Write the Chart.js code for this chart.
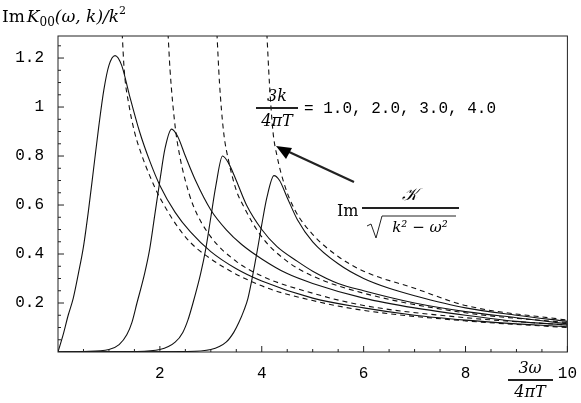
<!DOCTYPE html>
<html><head><meta charset="utf-8">
<script src="https://cdn.jsdelivr.net/npm/chart.js@4"></script>
<style>body{margin:0;background:#fff}#w{width:581px;height:403px}</style>
</head><body><div id="w"><canvas id="c"></canvas></div>
<script>
const xTicks=[2,4,6,8,10];
const yTicks=[0.2,0.4,0.6,0.8,1.0,1.2];
const kLabels=["1.0","2.0","3.0","4.0"];
const solid1=[[0,0],[0.1,0.07],[0.2,0.15],[0.3,0.22],[0.4,0.32],[0.5,0.43],[0.6,0.58],[0.7,0.75],[0.8,0.92],[0.9,1.07],[1.0,1.17],[1.12,1.21],[1.25,1.17],[1.4,1.05],[1.6,0.9],[1.8,0.78],[2.0,0.68],[2.3,0.57],[2.6,0.49],[3,0.41],[3.5,0.34],[4,0.29],[5,0.22],[6,0.18],[7,0.15],[8,0.13],[9,0.115],[10,0.103]];
const solid2=[[0,0],[0.5,0.002],[1,0.01],[1.2,0.03],[1.35,0.07],[1.45,0.12],[1.55,0.2],[1.7,0.32],[1.8,0.42],[1.9,0.56],[2.0,0.7],[2.1,0.83],[2.23,0.91],[2.35,0.88],[2.5,0.8],[2.7,0.7],[3.0,0.58],[3.3,0.5],[3.6,0.44],[4,0.38],[4.5,0.32],[5,0.28],[6,0.22],[7,0.18],[8,0.15],[9,0.125],[10,0.11]];
const solid3=[[0,0],[1.5,0.002],[2,0.01],[2.3,0.04],[2.45,0.08],[2.55,0.13],[2.65,0.2],[2.8,0.32],[2.9,0.42],[3.0,0.55],[3.1,0.68],[3.23,0.8],[3.35,0.77],[3.5,0.7],[3.7,0.6],[4,0.5],[4.3,0.43],[4.7,0.37],[5,0.33],[5.5,0.28],[6,0.25],[7,0.2],[8,0.165],[9,0.14],[10,0.115]];
const solid4=[[0,0],[2.5,0.002],[3,0.01],[3.3,0.04],[3.45,0.08],[3.55,0.12],[3.65,0.17],[3.73,0.22],[3.9,0.4],[4.0,0.52],[4.1,0.63],[4.24,0.72],[4.35,0.7],[4.5,0.63],[4.7,0.54],[5,0.45],[5.5,0.36],[6,0.3],[6.5,0.26],[7,0.23],[8,0.18],[9,0.15],[10,0.125]];
const dash1=[[1.26,1.3],[1.3,1.15],[1.4,1.0],[1.5,0.9],[1.65,0.8],[1.8,0.72],[2,0.63],[2.5,0.47],[3,0.38],[4,0.27],[5,0.21],[6,0.17],[8,0.127],[10,0.1]];
const dash2=[[2.16,1.3],[2.2,1.15],[2.3,0.92],[2.39,0.8],[2.5,0.7],[2.65,0.6],[3,0.47],[3.5,0.37],[4,0.31],[5,0.24],[6,0.19],[8,0.14],[10,0.11]];
const dash3=[[3.12,1.3],[3.17,1.1],[3.25,0.9],[3.35,0.78],[3.5,0.66],[3.63,0.6],[4,0.47],[4.5,0.37],[5,0.31],[6,0.24],[8,0.16],[10,0.12]];
const dash4=[[4.1,1.3],[4.15,1.1],[4.22,0.9],[4.3,0.8],[4.45,0.68],[4.65,0.58],[5,0.48],[5.5,0.39],[6,0.33],[7,0.26],[8,0.19],[10,0.13]];
const toPts=a=>a.map(p=>({x:p[0],y:p[1]}));
const ds=(d,dash)=>({data:toPts(d),borderColor:'#111',borderWidth:1.1,borderDash:dash?[5,4]:[],pointRadius:0,cubicInterpolationMode:'monotone',fill:false});
const deco={id:'deco',afterDraw(ch){
 const c=ch.ctx,a=ch.chartArea,x=ch.scales.x,y=ch.scales.y;
 c.save();c.strokeStyle='#222';c.lineWidth=1;
 c.strokeRect(a.left,a.top,a.right-a.left,a.bottom-a.top);
 for(let v=0.5;v<=10;v+=0.5){const px=x.getPixelForValue(v);const L=(v%2===0)?6:3;c.beginPath();c.moveTo(px,a.bottom);c.lineTo(px,a.bottom-L);c.stroke();}
 for(let v=0.05;v<=1.29;v+=0.05){const py=y.getPixelForValue(v);const m=Math.round(v*100)%20===0;const L=m?6:3;c.beginPath();c.moveTo(a.left,py);c.lineTo(a.left+L,py);c.stroke();}
 c.fillStyle='#000';c.textBaseline='alphabetic';c.textAlign='left';
 let px=2;const put=(t,f,dy)=>{c.font=f;c.fillText(t,px,22+(dy||0));px+=c.measureText(t).width;};
 put('Im','17px "DejaVu Serif"');px+=2;put('K','italic 17px "DejaVu Serif"');put('00','12px "DejaVu Serif"',4);
 put('(ω, k)/k','italic 17px "DejaVu Serif"');put('2','11px "DejaVu Serif"',-8);
 // k label
 c.font='italic 16px "DejaVu Serif"';c.textAlign='center';c.fillText('3k',277,101);c.fillText('4πT',277,126);
 c.lineWidth=2.2;c.beginPath();c.moveTo(256,108);c.lineTo(298,108);c.stroke();
 c.textAlign='left';c.font='16px "Liberation Mono"';c.fillText('= '+kLabels.join(', '),304,113);
 // arrow
 c.lineWidth=2.2;c.beginPath();c.moveTo(354,182);c.lineTo(287,151);c.stroke();
 c.beginPath();c.moveTo(276,146);c.lineTo(292,148);c.lineTo(286,159);c.closePath();c.fill();
 // Im K / sqrt
 c.font='16px "DejaVu Serif"';c.fillText('Im',337,216);
 c.font='italic 17px "DejaVu Serif"';c.textAlign='center';c.fillText('𝒦',410,200);
 c.font='italic 15px "DejaVu Serif"';c.fillText('k² − ω²',420,232);
 c.lineWidth=2.2;c.beginPath();c.moveTo(362,208);c.lineTo(459,208);c.stroke();
 c.lineWidth=1;c.beginPath();c.moveTo(367,226);c.lineTo(371,224);c.lineTo(376,238);c.lineTo(382,216);c.lineTo(456,216);c.stroke();
 // x label
 c.font='italic 16px "DejaVu Serif"';c.fillText('3ω',530,373);c.fillText('4πT',530,397);
 c.lineWidth=2.2;c.beginPath();c.moveTo(508,380);c.lineTo(553,380);c.stroke();
 c.restore();}};
new Chart(document.getElementById('c'),{type:'line',
 data:{datasets:[ds(solid1),ds(solid2),ds(solid3),ds(solid4),ds(dash1,1),ds(dash2,1),ds(dash3,1),ds(dash4,1)]},
 options:{animation:false,responsive:true,maintainAspectRatio:false,
  layout:{padding:{left:0,right:13,top:36,bottom:0}},
  plugins:{legend:{display:false},tooltip:{enabled:false}},
  scales:{
   x:{type:'linear',min:0,max:10,grid:{display:false},border:{display:false},
     afterBuildTicks:s=>{s.ticks=xTicks.map(v=>({value:v}));},
     afterFit:s=>{s.height=51;},
     ticks:{color:'#000',font:{family:'Liberation Mono',size:16},padding:4,maxRotation:0}},
   y:{type:'linear',min:0,max:1.29,grid:{display:false},border:{display:false},
     afterBuildTicks:s=>{s.ticks=yTicks.map(v=>({value:v}));},
     afterFit:s=>{s.width=58;},
     ticks:{color:'#000',font:{family:'Liberation Mono',size:16},padding:6,callback:v=>(v===1?'1':v.toFixed(1))}}
  }},plugins:[deco]});
</script></body></html>
